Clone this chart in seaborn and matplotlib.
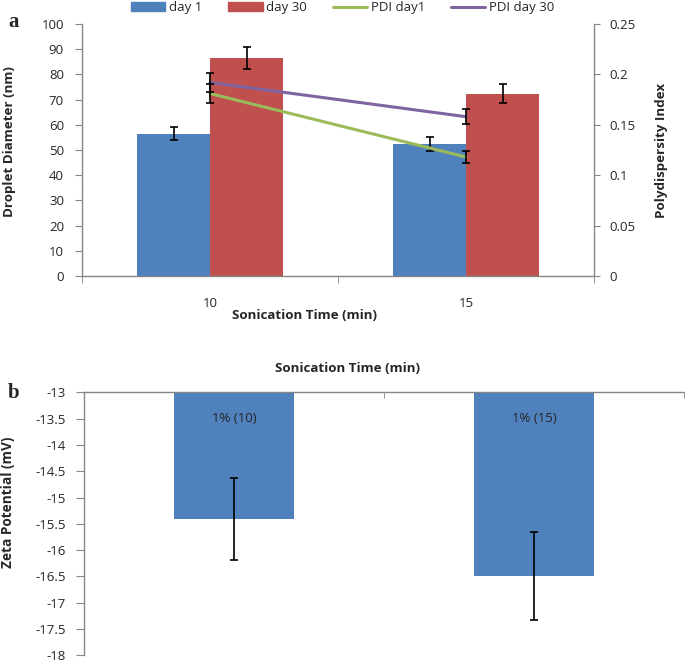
import numpy as np
import pandas as pd
import seaborn as sns
import matplotlib.pyplot as plt
from matplotlib.patches import Patch
from matplotlib.lines import Line2D
from matplotlib.ticker import FuncFormatter

# panel a: droplet size and PDI
sonication = ['10', '15']
day1_size = [56.5, 52.4]
day1_size_err = [2.6, 2.7]
day30_size = [86.5, 72.3]
day30_size_err = [4.2, 3.7]
pdi_day1 = [0.181, 0.118]
pdi_day1_err = [0.009, 0.006]
pdi_day30 = [0.192, 0.158]
pdi_day30_err = [0.0095, 0.0075]

# panel b: zeta potential
zeta_labels = ['1% (10)', '1% (15)']
zeta = [-15.4, -16.49]
zeta_err = [0.78, 0.83]

sns.set_style('white')
plt.rcParams['font.family'] = ['Open Sans', 'DejaVu Sans']
plt.rcParams['font.size'] = 9.5

blue, red, green, purple = '#4F81BD', '#C0504D', '#9BBB59', '#8064A2'
grey = '#868686'
txt = '#262626'
fmt = FuncFormatter(lambda v, p: '%g' % round(v, 3))

fig = plt.figure(figsize=(6.85, 6.64), dpi=100)

# ---- panel a
ax = fig.add_axes([0.1197, 0.5843, 0.7477, 0.3796])
df = pd.DataFrame({'time': sonication * 2,
                   'size': day1_size + day30_size,
                   'day': ['day 1'] * 2 + ['day 30'] * 2})
sns.barplot(data=df, x='time', y='size', hue='day', palette=[blue, red],
            width=0.57, saturation=1, linewidth=0, legend=False, ax=ax)
for cont, errs in zip(ax.containers, [day1_size_err, day30_size_err]):
    xs = [b.get_x() + b.get_width() / 2 for b in cont]
    ys = [b.get_y() + b.get_height() for b in cont]
    ax.errorbar(xs, ys, yerr=errs, fmt='none', ecolor='black', elinewidth=1.2,
                capsize=3, capthick=1.2, zorder=5)

ax2 = ax.twinx()
pos = np.arange(len(sonication))
pdf = pd.DataFrame({'pos': np.tile(pos, 2),
                    'pdi': pdi_day1 + pdi_day30,
                    'series': ['PDI day1'] * 2 + ['PDI day 30'] * 2})
sns.lineplot(data=pdf, x='pos', y='pdi', hue='series', palette=[green, purple],
             linewidth=2.2, legend=False, ax=ax2)
for vals, errs in [(pdi_day1, pdi_day1_err), (pdi_day30, pdi_day30_err)]:
    ax2.errorbar(pos, vals, yerr=errs, fmt='none', ecolor='black', elinewidth=1.2,
                 capsize=3, capthick=1.2, zorder=5)

ax.set_xlim(-0.5, 1.5)
ax.set_ylim(0, 100)
ax.set_yticks(np.arange(0, 101, 10))
ax2.set_ylim(0, 0.25)
ax2.set_yticks(np.arange(0, 0.26, 0.05))
ax2.yaxis.set_major_formatter(fmt)
ax.set_xticks(pos)
ax.set_xticklabels(sonication)
ax.set_xticks([-0.5, 0.5, 1.5], minor=True)
ax.set_xlabel('')
ax.set_ylabel('')
ax2.set_ylabel('')
ax2.set_xlabel('')

for s in ['top', 'right']:
    ax.spines[s].set_visible(False)
for s in ['top', 'left', 'bottom']:
    ax2.spines[s].set_visible(False)
for sp in [ax.spines['left'], ax.spines['bottom'], ax2.spines['right']]:
    sp.set_color(grey)
    sp.set_linewidth(1)
ax.tick_params(axis='y', left=True, length=5, color=grey, pad=8, labelcolor=txt, labelsize=9.5)
ax.tick_params(axis='x', which='major', bottom=True, length=0, pad=15, labelcolor=txt, labelsize=9.5)
ax.tick_params(axis='x', which='minor', bottom=True, length=5, color=grey)
ax2.tick_params(axis='y', right=True, length=4, color=grey, pad=7, labelcolor=txt, labelsize=9.5)

handles = [Patch(color=blue, label='day 1'), Patch(color=red, label='day 30'),
           Line2D([], [], color=green, lw=2.2, label='PDI day1'),
           Line2D([], [], color=purple, lw=2.2, label='PDI day 30')]
fig.legend(handles=handles, loc='center', bbox_to_anchor=(0.5, 0.988), ncol=4,
           frameon=False, handlelength=2.6, handletextpad=0.25, columnspacing=2.0,
           fontsize=9.5, labelcolor=txt)

fig.text(305 / 685, 1 - 316 / 664, 'Sonication Time (min)', ha='center', va='center',
         fontweight='bold', fontsize=9.6, color=txt)
fig.text(10 / 685, 1 - 142 / 664, 'Droplet Diameter (nm)', ha='center', va='center',
         rotation=90, fontweight='bold', fontsize=9.6, color=txt)
fig.text(661 / 685, 1 - 150 / 664, 'Polydispersity Index', ha='center', va='center',
         rotation=90, fontweight='bold', fontsize=9.6, color=txt)
fig.text(14 / 685, 1 - 22 / 664, 'a', ha='center', va='center', fontweight='bold',
         fontsize=15, family='Liberation Serif')

# ---- panel b
axb = fig.add_axes([0.1226, 0.013, 0.8759, 0.3962])
zdf = pd.DataFrame({'sample': zeta_labels, 'zeta': zeta})
sns.barplot(data=zdf, x='sample', y='zeta', color=blue, saturation=1, width=0.4,
            linewidth=0, ax=axb)
bars = axb.containers[0]
xs = [b.get_x() + b.get_width() / 2 for b in bars]
ys = [b.get_y() + b.get_height() for b in bars]
axb.errorbar(xs, ys, yerr=zeta_err, fmt='none', ecolor='black', elinewidth=1.2,
             capsize=3, capthick=1.2, zorder=5)
for x, lab in zip(xs, zeta_labels):
    axb.text(x, -13.5, lab, ha='center', va='center', fontsize=9.5, color=txt)

axb.set_xlim(-0.5, 1.5)
axb.set_ylim(-18, -13)
axb.set_yticks(np.arange(-18, -12.9, 0.5))
axb.yaxis.set_major_formatter(fmt)
axb.xaxis.tick_top()
axb.set_xticks([])
axb.set_xticks([-0.5, 0.5, 1.5], minor=True)
axb.set_xlabel('')
axb.set_ylabel('')
for s in ['bottom', 'right']:
    axb.spines[s].set_visible(False)
for s in ['top', 'left']:
    axb.spines[s].set_color(grey)
    axb.spines[s].set_linewidth(1)
axb.tick_params(axis='y', left=True, length=6, color=grey, pad=7, labelcolor=txt, labelsize=9.5)
axb.tick_params(axis='x', which='minor', top=True, bottom=False, direction='in',
                length=4, color=grey)

fig.text(348 / 685, 1 - 369 / 664, 'Sonication Time (min)', ha='center', va='center',
         fontweight='bold', fontsize=9.6, color=txt)
fig.text(8 / 685, 1 - 502 / 664, 'Zeta Potential (mV)', ha='center', va='center',
         rotation=90, fontweight='bold', fontsize=9.8, color=txt)
fig.text(14 / 685, 1 - 393 / 664, 'b', ha='center', va='center', fontweight='bold',
         fontsize=15, family='Liberation Serif')

fig.savefig('out.png', dpi=100)
